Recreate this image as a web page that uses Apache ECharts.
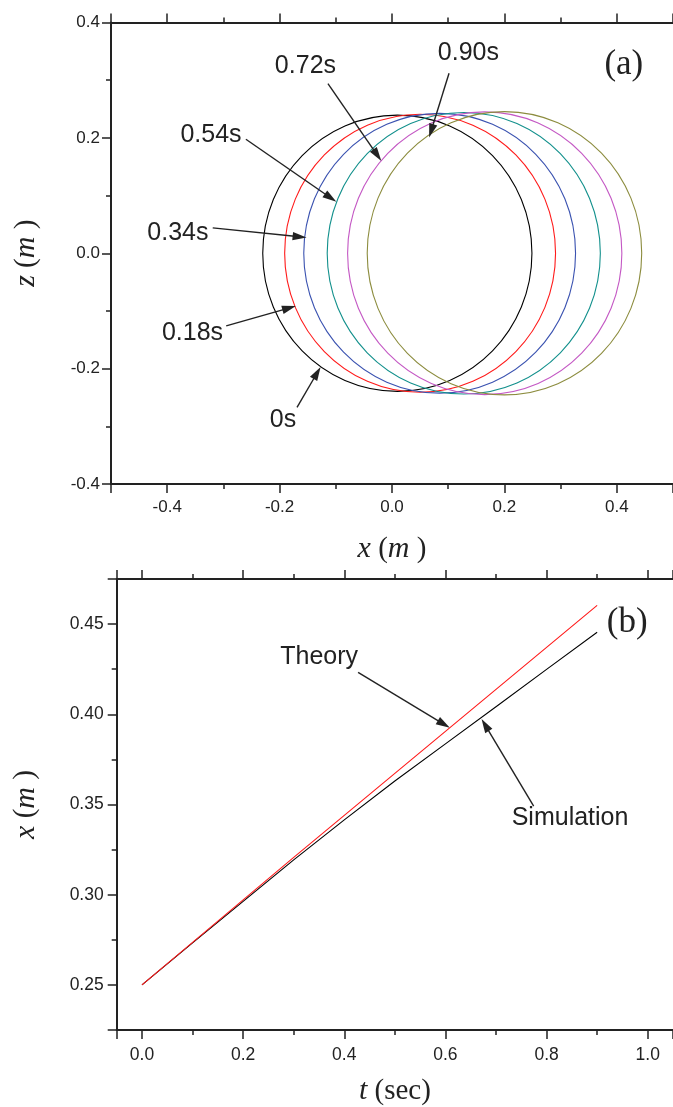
<!DOCTYPE html>
<html><head><meta charset="utf-8">
<script src="https://cdn.jsdelivr.net/npm/echarts@6/dist/echarts.min.js"></script>
<style>html,body{margin:0;padding:0;background:#fff}#c{width:673px;height:1107px}</style>
</head><body><div id="c"></div>
<script>
// ---------- Panel (a): drop outlines at successive times ----------
const ringTimes   = ['0s', '0.18s', '0.34s', '0.54s', '0.72s', '0.90s'];
const ringCenterX = [0.0095, 0.050, 0.0848, 0.1277, 0.165, 0.2001];
const ringCenterZ = [0, 0, 0, 0, 0, 0];
const ringRadiusX = [0.2395, 0.241, 0.2418, 0.243, 0.244, 0.2442];
const ringRadiusZ = [0.2395, 0.241, 0.2425, 0.244, 0.245, 0.2455];
const ringColors  = ['#000000', '#ff1a1a', '#3a52b0', '#12908c', '#c458c4', '#8c8c3e'];

// annotations of panel (a): label position, arrow tail, arrow tip (data coords)
const annALabels = ['0.72s', '0.90s', '0.54s', '0.34s', '0.18s', '0s'];
const annALabelX = [-0.154, 0.136, -0.322, -0.381, -0.355, -0.194];
const annALabelZ = [0.325, 0.347, 0.205, 0.035, -0.139, -0.290];
const annATailX  = [-0.114, 0.1015, -0.260, -0.319, -0.295, -0.169];
const annATailZ  = [0.294, 0.312, 0.1976, 0.044, -0.126, -0.267];
const annATipX   = [-0.019, 0.066, -0.099, -0.152, -0.171, -0.127];
const annATipZ   = [0.160, 0.2006, 0.0892, 0.0273, -0.0915, -0.197];

// ---------- Panel (b): x position vs time ----------
const theoryT = [0, 0.3, 0.6, 0.9];
const theoryX = [0.2500, 0.3207, 0.3905, 0.4604];
const simT    = [0, 0.1, 0.2, 0.3, 0.4, 0.5, 0.6, 0.7, 0.8, 0.9];
const simX    = [0.2500, 0.2733, 0.2963, 0.3193, 0.3415, 0.3630, 0.3836, 0.4042, 0.4249, 0.4455];

const annBLabels = ['Theory', 'Simulation'];
const annBLabelT = [0.3503, 0.8464];
const annBLabelX = [0.4319, 0.3427];
const annBTailT  = [0.4273, 0.7745];
const annBTailX  = [0.4232, 0.3491];
const annBTipT   = [0.6087, 0.6715];
const annBTipX   = [0.3925, 0.3974];

const panelLabels = ['(a)', '(b)'];
const panelLabelX = [0.4125, 0.9593];
const panelLabelY = [0.327, 0.4509];

// ---------- styling ----------
const INK = '#222';
const SANS = '"Liberation Sans", Arial, sans-serif';
const SERIF = '"Liberation Serif", "Times New Roman", serif';

function zip(...arrs) { return arrs[0].map((_, i) => arrs.map(a => a[i])); }

function makeAxis(o) {
  return Object.assign({
    type: 'value',
    axisLine: { show: true, onZero: false, lineStyle: { color: INK, width: 2 } },
    axisTick: { show: true, inside: false, length: 9, lineStyle: { color: INK, width: 1.5 } },
    minorTick: { show: true, splitNumber: 2, length: 5, lineStyle: { color: INK, width: 1.5 } },
    splitLine: { show: false },
    minorSplitLine: { show: false },
    axisLabel: { show: true, color: INK, fontFamily: SANS, fontSize: 17, margin: 14, showMinLabel: true, showMaxLabel: true },
    nameTextStyle: {
      color: INK, fontFamily: SERIF, fontSize: 29,
      rich: {
        i: { fontFamily: SERIF, fontStyle: 'italic', fontSize: 30, color: INK },
        r: { fontFamily: SERIF, fontSize: 29, color: INK }
      }
    }
  }, o);
}

function arrowRender(labels, fontSize) {
  return function (params, api) {
    const lp = api.coord([api.value(0), api.value(1)]);
    const p0 = api.coord([api.value(2), api.value(3)]);
    const p1 = api.coord([api.value(4), api.value(5)]);
    const dx = p1[0] - p0[0], dy = p1[1] - p0[1];
    const len = Math.hypot(dx, dy);
    const ux = dx / len, uy = dy / len;
    const L = 14, W = 4.2;
    const bx = p1[0] - ux * L, by = p1[1] - uy * L;
    return {
      type: 'group',
      children: [
        { type: 'text', style: { text: labels[params.dataIndex], x: lp[0], y: lp[1], align: 'center', verticalAlign: 'middle', font: fontSize + 'px ' + SANS, fill: INK } },
        { type: 'line', shape: { x1: p0[0], y1: p0[1], x2: bx + ux * 2, y2: by + uy * 2 }, style: { stroke: INK, lineWidth: 1.4 } },
        { type: 'polygon', shape: { points: [[p1[0], p1[1]], [bx - uy * W, by + ux * W], [bx + uy * W, by - ux * W]] }, style: { fill: INK } }
      ]
    };
  };
}

function panelLabelRender(idx) {
  return function (params, api) {
    const p = api.coord([api.value(0), api.value(1)]);
    return { type: 'text', style: { text: panelLabels[idx], x: p[0], y: p[1], align: 'center', verticalAlign: 'middle', font: '35px ' + SERIF, fill: INK } };
  };
}

const chart = echarts.init(document.getElementById('c'), null, { renderer: 'canvas' });

const option = {
  animation: false,
  backgroundColor: '#fff',
  grid: [
    { left: 111, top: 22.5, width: 566.5, height: 461.5 },
    { left: 116.7, top: 579, width: 560, height: 456.4 }
  ],
  xAxis: [
    makeAxis({ gridIndex: 0, position: 'bottom', min: -0.5, max: 0.5,
      name: '{i|x}{r| (}{i|m}{r| )}', nameLocation: 'middle', nameGap: 50,
      axisLabel: { color: INK, fontFamily: SANS, fontSize: 17, margin: 15, showMinLabel: false, showMaxLabel: false, formatter: v => v.toFixed(1) } }),
    makeAxis({ gridIndex: 0, position: 'top', min: -0.5, max: 0.5, axisLabel: { show: false } }),
    makeAxis({ gridIndex: 1, position: 'bottom', min: -0.05, max: 1.05,
      name: '{i|t}{r| (sec)}', nameLocation: 'middle', nameGap: 46,
      axisLabel: { color: INK, fontFamily: SANS, fontSize: 17.5, margin: 16, showMinLabel: false, showMaxLabel: false, formatter: v => v.toFixed(1) } }),
    makeAxis({ gridIndex: 1, position: 'top', min: -0.05, max: 1.05, axisLabel: { show: false } })
  ],
  yAxis: [
    makeAxis({ gridIndex: 0, position: 'left', min: -0.4, max: 0.4, interval: 0.2,
      name: '{i|z}{r| (}{i|m}{r| )}', nameLocation: 'middle', nameGap: 70, nameRotate: 90,
      axisLabel: { color: INK, fontFamily: SANS, fontSize: 17, margin: 11, formatter: v => v.toFixed(1) } }),
    makeAxis({ gridIndex: 1, position: 'left', min: 0.225, max: 0.475,
      name: '{i|x}{r| (}{i|m}{r| )}', nameLocation: 'middle', nameGap: 76, nameRotate: 90,
      axisLabel: { color: INK, fontFamily: SANS, fontSize: 17.5, margin: 13, showMinLabel: false, showMaxLabel: false, formatter: v => v.toFixed(2) } })
  ],
  series: [
    {
      type: 'custom', name: 'outlines', xAxisIndex: 0, yAxisIndex: 0, clip: false,
      data: zip(ringCenterX, ringCenterZ, ringRadiusX, ringRadiusZ),
      renderItem: function (params, api) {
        const c = api.coord([api.value(0), api.value(1)]);
        const s = api.size([api.value(2), api.value(3)]);
        return { type: 'ellipse', shape: { cx: c[0], cy: c[1], rx: s[0], ry: s[1] },
          style: { fill: 'none', stroke: ringColors[params.dataIndex], lineWidth: 1.1 } };
      }
    },
    {
      type: 'custom', name: 'annA', xAxisIndex: 0, yAxisIndex: 0, clip: false, silent: true,
      data: zip(annALabelX, annALabelZ, annATailX, annATailZ, annATipX, annATipZ),
      renderItem: arrowRender(annALabels, 25)
    },
    {
      type: 'custom', name: 'labelA', xAxisIndex: 0, yAxisIndex: 0, clip: false, silent: true,
      data: [[panelLabelX[0], panelLabelY[0]]],
      renderItem: panelLabelRender(0)
    },
    {
      type: 'line', name: 'Simulation', xAxisIndex: 2, yAxisIndex: 1,
      data: zip(simT, simX), showSymbol: false, symbol: 'none',
      lineStyle: { color: '#000', width: 1.1 }
    },
    {
      type: 'line', name: 'Theory', xAxisIndex: 2, yAxisIndex: 1,
      data: zip(theoryT, theoryX), showSymbol: false, symbol: 'none',
      lineStyle: { color: '#ff1a1a', width: 1.1 }
    },
    {
      type: 'custom', name: 'annB', xAxisIndex: 2, yAxisIndex: 1, clip: false, silent: true,
      data: zip(annBLabelT, annBLabelX, annBTailT, annBTailX, annBTipT, annBTipX),
      renderItem: arrowRender(annBLabels, 25)
    },
    {
      type: 'custom', name: 'labelB', xAxisIndex: 2, yAxisIndex: 1, clip: false, silent: true,
      data: [[panelLabelX[1], panelLabelY[1]]],
      renderItem: panelLabelRender(1)
    }
  ]
};
chart.setOption(option);
</script>
</body></html>
